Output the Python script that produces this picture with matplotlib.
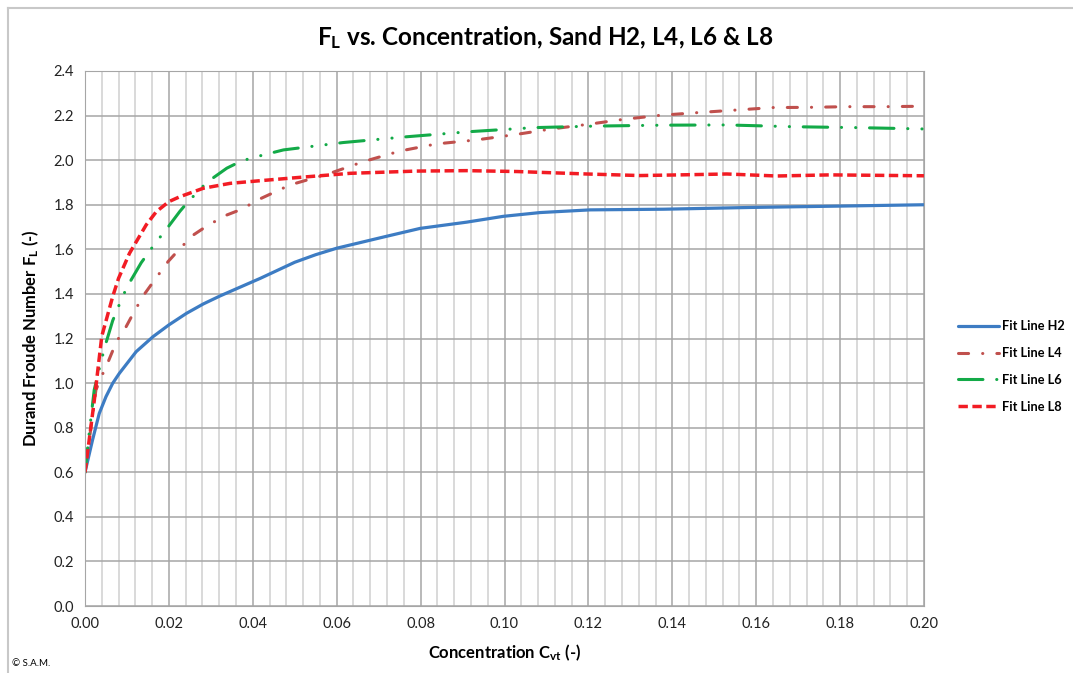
import matplotlib
matplotlib.use("Agg")
import matplotlib.pyplot as plt
from matplotlib.lines import Line2D
import numpy as np

plt.rcParams["font.family"] = ["Lato", "DejaVu Sans"]
plt.rcParams["mathtext.fontset"] = "custom"
plt.rcParams["mathtext.rm"] = "Lato"
plt.rcParams["mathtext.bf"] = "Lato:bold"

# values
c_h2 = [0, 0.0018, 0.0034, 0.005, 0.0066, 0.0082, 0.0122, 0.0162, 0.02, 0.0242,
        0.0282, 0.0322, 0.0362, 0.0418, 0.05, 0.055, 0.06, 0.0711, 0.0799, 0.091,
        0.0997, 0.1085, 0.1204, 0.138, 0.159, 0.18, 0.2]
f_h2 = [0.6, 0.745, 0.864, 0.939, 0.999, 1.044, 1.141, 1.208, 1.261, 1.313,
        1.355, 1.391, 1.424, 1.47, 1.542, 1.576, 1.605, 1.655, 1.694, 1.722,
        1.748, 1.765, 1.777, 1.78, 1.788, 1.794, 1.80]

c_l4 = [0, 0.0026, 0.004, 0.0054, 0.0075, 0.0098, 0.012, 0.0142, 0.017, 0.0198,
        0.0226, 0.0258, 0.0294, 0.0338, 0.0375, 0.041, 0.0489, 0.0584, 0.0663,
        0.0751, 0.0838, 0.0934, 0.103, 0.1108, 0.1204, 0.1283, 0.137, 0.1458,
        0.1553, 0.164, 0.1728, 0.1816, 0.191, 0.2]
f_l4 = [0.6, 0.969, 1.032, 1.09, 1.186, 1.253, 1.33, 1.40, 1.473, 1.545,
        1.603, 1.664, 1.709, 1.754, 1.781, 1.82, 1.889, 1.941, 1.993,
        2.041, 2.073, 2.091, 2.116, 2.139, 2.162, 2.183, 2.201, 2.213,
        2.225, 2.236, 2.237, 2.24, 2.24, 2.242]

c_l6 = [0, 0.001, 0.0022, 0.004, 0.005, 0.0066, 0.009, 0.0106, 0.0134, 0.017,
        0.019, 0.0226, 0.0244, 0.029, 0.0338, 0.0366, 0.0393, 0.0473, 0.0615,
        0.0767, 0.0918, 0.107, 0.122, 0.138, 0.153, 0.169, 0.184, 0.2]
f_l6 = [0.6, 0.776, 0.97, 1.11, 1.18, 1.28, 1.39, 1.45, 1.54, 1.634,
        1.68, 1.77, 1.81, 1.90, 1.964, 1.99, 2.008, 2.046, 2.079,
        2.105, 2.128, 2.146, 2.153, 2.157, 2.158, 2.15, 2.146, 2.14]

c_l8 = [0, 0.0022, 0.004, 0.0066, 0.008, 0.0106, 0.012, 0.0146, 0.017, 0.02,
        0.0226, 0.0282, 0.0346, 0.0418, 0.0513, 0.0632, 0.079, 0.091, 0.103,
        0.1196, 0.1323, 0.1418, 0.153, 0.1649, 0.1776, 0.2]
f_l8 = [0.6, 0.92, 1.21, 1.388, 1.47, 1.582, 1.627, 1.71, 1.769, 1.814,
        1.836, 1.874, 1.896, 1.908, 1.923, 1.941, 1.951, 1.953, 1.949,
        1.938, 1.931, 1.934, 1.938, 1.929, 1.934, 1.93]

labels = ["Fit Line H2", "Fit Line L4", "Fit Line L6", "Fit Line L8"]

fig = plt.figure(figsize=(10.73, 6.73), dpi=100)
ax = fig.add_axes([85 / 1073, 67 / 673, 839 / 1073, 535 / 673])

# grid
for xv in np.arange(0, 0.2001, 0.004):
    major = abs(xv / 0.02 - round(xv / 0.02)) < 1e-6
    ax.axvline(xv, color="#a6a6a6" if major else "#d0d0d0", lw=1.1, zorder=0)
for yv in np.arange(0, 2.401, 0.2):
    ax.axhline(yv, color="#a6a6a6", lw=1.1, zorder=0)

ax.plot(c_h2, f_h2, color="#3d7cc3", lw=2.3, solid_capstyle="round",
        solid_joinstyle="round", label=labels[0])
ax.plot(c_l4, f_l4, color="#c0504d", lw=2.2, dash_capstyle="round",
        linestyle=(0, (3.3, 4.6, 0.05, 4.6)), label=labels[1])
ax.plot(c_l6, f_l6, color="#13aa48", lw=2.2, dash_capstyle="round",
        linestyle=(0, (8, 4.5, 0.05, 4.6, 0.05, 4.5)), label=labels[2])
ax.plot(c_l8, f_l8, color="#f21c24", lw=2.5, dash_capstyle="butt",
        linestyle=(0, (2.7, 1.3)), label=labels[3])

ax.set_xlim(0, 0.2)
ax.set_ylim(0, 2.4)
ax.set_xticks(np.arange(0, 0.2001, 0.02))
ax.set_xticklabels(["%.2f" % v for v in np.arange(0, 0.2001, 0.02)])
ax.set_yticks(np.arange(0, 2.401, 0.2))
ax.set_yticklabels(["%.1f" % v for v in np.arange(0, 2.401, 0.2)])
ax.tick_params(length=0, labelsize=10.5, colors="#222222", pad=8)
for s in ax.spines.values():
    s.set_color("#a6a6a6")

ax.set_xlabel(r"Concentration $\mathbf{C_{vt}}$ (-)", fontsize=12,
              fontweight="bold", labelpad=8)
ax.set_ylabel(r"Durand Froude Number $\mathbf{F_L}$ (-)", fontsize=12,
              fontweight="bold", labelpad=9)
fig.text(545 / 1073, 1 - 38 / 673,
         r"$\mathbf{F_L}$ vs. Concentration, Sand H2, L4, L6 & L8",
         fontsize=17.5, fontweight="bold", ha="center", va="center")

leg = fig.legend(loc="center left", bbox_to_anchor=(958 / 1073, 1 - 366.5 / 673),
                 frameon=False, prop={"weight": "bold", "size": 9.2},
                 handlelength=3.2, handletextpad=0.25, labelspacing=1.15,
                 borderpad=0, borderaxespad=0)

fig.text(12 / 1073, 1 - 663 / 673, "\u00a9 S.A.M.", fontsize=7, va="center")

# outer border (top and left edges are visible in the reference)
fig.add_artist(Line2D([8 / 1073, 1], [1 - 8 / 673, 1 - 8 / 673], color="#c8c8c8", lw=1.5))
fig.add_artist(Line2D([8 / 1073, 8 / 1073], [0, 1 - 8 / 673], color="#c8c8c8", lw=1.5))

fig.savefig("out.png", dpi=100)
